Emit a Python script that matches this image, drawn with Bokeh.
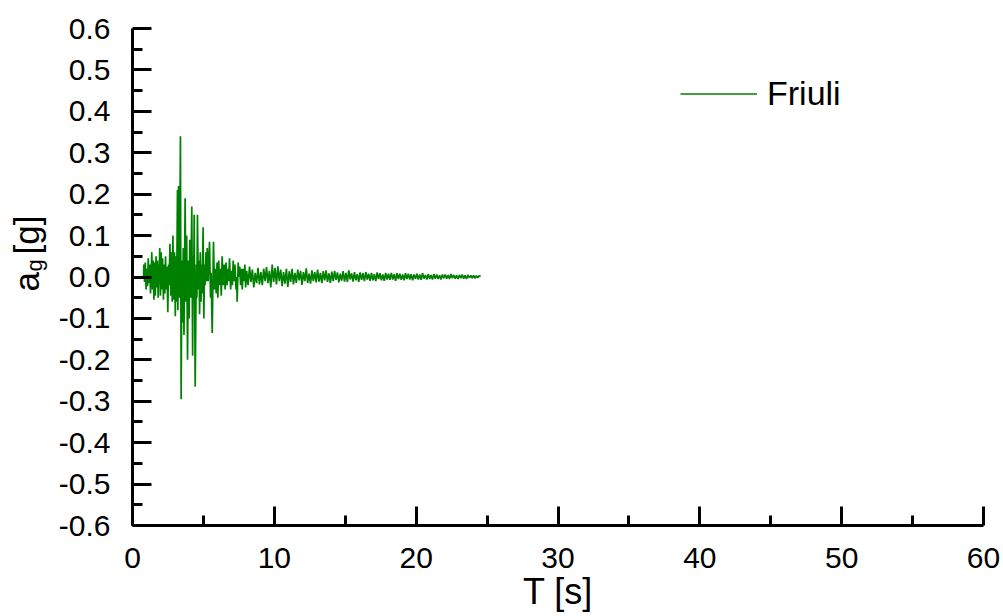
import numpy as np
from math import pi
from bokeh.plotting import figure
from bokeh.layouts import row
from bokeh.core.properties import value
from bokeh.models import Range1d, FixedTicker, PrintfTickFormatter, Legend, LegendItem, ColumnDataSource
from bokeh.embed import file_html
from bokeh.resources import INLINE

# ---- data (turning points of the Friuli accelerogram) ----
strong_t = [0.00, 0.78, 0.80, 0.85, 0.90, 0.96, 1.01, 1.06, 1.11, 1.17, 1.22, 1.27, 1.36, 1.41,
            1.46, 1.51, 1.56, 1.61, 1.66, 1.71, 1.76, 1.81, 1.86, 1.88, 1.92, 1.97, 2.02, 2.07,
            2.12, 2.18, 2.23, 2.28, 2.33, 2.38, 2.43, 2.49, 2.54, 2.58, 2.64, 2.70, 2.75, 2.80,
            2.85, 2.91, 2.96, 3.02, 3.07, 3.11, 3.17, 3.20, 3.25, 3.31, 3.38, 3.43, 3.48, 3.52,
            3.58, 3.63, 3.71, 3.77, 3.82, 3.88, 3.94, 3.99, 4.04, 4.10, 4.18, 4.24, 4.28, 4.31,
            4.35, 4.42, 4.50, 4.54, 4.58, 4.64, 4.69, 4.73, 4.78, 4.83, 4.87, 4.91, 4.98, 5.03,
            5.08, 5.12, 5.18, 5.22, 5.27, 5.33, 5.43, 5.50, 5.54, 5.62, 5.71, 5.78, 5.84, 5.90,
            5.96, 6.02, 6.08, 6.14, 6.20, 6.26, 6.32, 6.40, 6.47, 6.53, 6.60, 6.66, 6.72, 6.78,
            6.84, 6.92, 6.98, 7.04, 7.10, 7.16, 7.22, 7.30, 7.34, 7.38, 7.45, 7.50, 7.56, 7.62,
            7.68, 7.74, 7.80, 7.86, 7.92, 7.98]
strong_a = [0.000, 0.000, 0.030, -0.012, 0.035, -0.030, 0.020, -0.022, 0.045, -0.015, 0.030, -0.040, 0.060, -0.030,
            0.040, -0.055, 0.035, -0.045, 0.050, -0.025, 0.040, -0.050, 0.030, -0.010, 0.070, -0.045, 0.060, -0.030,
            0.045, -0.055, 0.030, -0.040, 0.050, -0.030, 0.025, -0.085, 0.030, -0.020, 0.080, -0.045, 0.060, -0.060,
            0.100, -0.055, 0.060, -0.095, 0.050, -0.060, 0.210, -0.080, 0.220, -0.050, 0.340, -0.295, 0.040, -0.110,
            0.070, -0.140, 0.190, -0.060, 0.100, -0.200, 0.040, -0.100, 0.090, -0.050, 0.170, -0.190, 0.050, -0.040,
            0.150, -0.265, 0.030, -0.050, 0.150, -0.030, 0.040, -0.090, 0.060, -0.060, 0.030, -0.040, 0.120, -0.100,
            0.030, -0.020, 0.060, -0.010, 0.070, -0.010, 0.085, -0.050, 0.010, -0.135, 0.085, -0.030, 0.020, -0.040,
            0.035, -0.050, 0.040, -0.020, 0.020, -0.045, 0.050, -0.020, 0.030, -0.030, 0.035, -0.020, 0.020, -0.010,
            0.045, -0.030, 0.015, -0.020, 0.040, -0.010, 0.030, -0.030, 0.000, -0.060, 0.035, 0.000, 0.025, -0.020,
            0.020, -0.030, 0.020, -0.010, 0.030, -0.025]

# coda, sampled every 0.1 s from 8.05 s
tail_start = 8.05
tail_step = 0.1
tail_a = [0.015, -0.020, 0.025, -0.012, 0.018, -0.025, 0.010, -0.015, 0.022, -0.018,
          0.012, -0.020, 0.020, -0.010, 0.024, -0.015, 0.015, -0.025, 0.030, -0.012,
          0.022, -0.018, 0.026, -0.010, 0.018, -0.022, 0.012, -0.016, 0.020, -0.024,
          0.014, -0.012, 0.020, -0.018, 0.010, -0.014, 0.018, -0.008, 0.015, -0.019,
          0.012, -0.010, 0.021, -0.014, 0.008, -0.016, 0.016, -0.010, 0.012, -0.013,
          0.018, -0.011, 0.010, -0.015, 0.014, -0.008, 0.016, -0.012, 0.009, -0.014,
          0.013, -0.010, 0.015, -0.007, 0.011, -0.013, 0.008, -0.009, 0.014, -0.011,
          0.010, -0.012, 0.016, -0.006, 0.009, -0.011, 0.012, -0.008, 0.007, -0.012,
          0.011, -0.007, 0.009, -0.010, 0.012, -0.006, 0.008, -0.009, 0.010, -0.008,
          0.007, -0.010, 0.011, -0.005, 0.009, -0.008, 0.006, -0.009, 0.010, -0.006,
          0.008, -0.007, 0.010, -0.006, 0.007, -0.009, 0.009, -0.005, 0.008, -0.007,
          0.006, -0.008, 0.009, -0.005, 0.008, -0.006, 0.007, -0.008, 0.006, -0.004,
          0.008, -0.006, 0.006, -0.007, 0.009, -0.004, 0.005, -0.006, 0.007, -0.005,
          0.005, -0.006, 0.007, -0.004, 0.006, -0.005, 0.004, -0.006, 0.006, -0.003,
          0.006, -0.004, 0.005, -0.005, 0.007, -0.003, 0.005, -0.004, 0.004, -0.005,
          0.005, -0.003, 0.006, -0.004, 0.004, -0.005, 0.005, -0.002, 0.004, -0.003,
          0.004, -0.003, 0.003, -0.002, 0.003, 0.002]

x_ticks = [0, 10, 20, 30, 40, 50, 60]
x_minor = [5, 15, 25, 35, 45, 55]
y_ticks = [-0.6, -0.5, -0.4, -0.3, -0.2, -0.1, 0.0, 0.1, 0.2, 0.3, 0.4, 0.5, 0.6]
y_minor = [-0.55, -0.45, -0.35, -0.25, -0.15, -0.05, 0.05, 0.15, 0.25, 0.35, 0.45, 0.55]
series_name = "Friuli"
x_title = "T [s]"
y_title_main, y_title_sub, y_title_unit = "a", "g", "[g]"

tail_t = [round(tail_start + tail_step * i, 2) for i in range(len(tail_a))]
src = ColumnDataSource(dict(t=strong_t + tail_t, a=strong_a + tail_a))

# ---- layout ----
W, H = 1003, 616
SIDE = 52                      # narrow strip that carries the y-axis title
L, R, T, B = 80, 20, 28, 91    # borders of the main plot
X0, X1, Y0, Y1 = 0, 60, -0.6, 0.6
FONT = "Liberation Sans"
FH = H - T - B

p = figure(width=W - SIDE, height=H, output_backend="svg", toolbar_location=None,
           x_range=Range1d(X0, X1), y_range=Range1d(Y0, Y1),
           min_border_left=L, min_border_right=R, min_border_top=T, min_border_bottom=B)
p.outline_line_color = None
p.xgrid.visible = False
p.ygrid.visible = False
p.background_fill_color = "white"
p.border_fill_color = "white"

r = p.line("t", "a", source=src, line_color="#008000", line_width=1.7)

for ax in (p.xaxis[0], p.yaxis[0]):
    ax.axis_line_width = 3
    ax.axis_line_color = "black"
    ax.major_tick_line_width = 3
    ax.minor_tick_line_width = 3
    ax.major_tick_line_color = "black"
    ax.minor_tick_line_color = "black"
    ax.major_tick_in = 19
    ax.major_tick_out = 0
    ax.minor_tick_in = 10
    ax.minor_tick_out = 0
    ax.major_label_text_font = FONT
    ax.major_label_text_font_size = "30px"
    ax.major_label_text_color = "black"

p.xaxis.ticker = FixedTicker(ticks=x_ticks, minor_ticks=x_minor)
p.yaxis.ticker = FixedTicker(ticks=y_ticks, minor_ticks=y_minor)
p.yaxis.formatter = PrintfTickFormatter(format="%.1f")
p.xaxis.major_label_standoff = 22
p.yaxis.major_label_standoff = 22

p.xaxis.axis_label = x_title
p.xaxis.axis_label_text_font = FONT
p.xaxis.axis_label_text_font_size = "36px"
p.xaxis.axis_label_text_font_style = "normal"
p.xaxis.axis_label_text_color = "black"
p.xaxis.axis_label_standoff = 0

legend = Legend(items=[LegendItem(label=series_name, renderers=[r])],
                location=(548, 412), glyph_width=77, glyph_height=37, label_standoff=10,
                label_text_font=FONT, label_text_font_size="34px", label_text_color="black",
                padding=0, margin=0, border_line_alpha=0, background_fill_alpha=0)
p.add_layout(legend)

# ---- y-axis title strip; its frame is aligned with the main frame ----
yt = figure(width=SIDE, height=H, output_backend="svg", toolbar_location=None,
            x_range=Range1d(0, SIDE), y_range=Range1d(Y0, Y1),
            x_axis_type=None, y_axis_type=None, min_border=0)
yt.outline_line_color = None
yt.xgrid.visible = False
yt.ygrid.visible = False

def yd(sy):
    return Y1 - (sy - T) / FH * (Y1 - Y0)

for txt, sx, sy, fs in ((y_title_main, 26, 291, "35px"),
                        (y_title_sub, 34, 271, "22px"),
                        (y_title_unit, 26, 254, "35px")):
    yt.text(x=[sx], y=[yd(sy)], text=[txt], angle=pi / 2, text_font=value(FONT),
            text_font_size=fs, text_color="black", text_align="left",
            text_baseline="alphabetic")

layout = row(yt, p, spacing=0)
open("out.html", "w").write(file_html(layout, INLINE))
